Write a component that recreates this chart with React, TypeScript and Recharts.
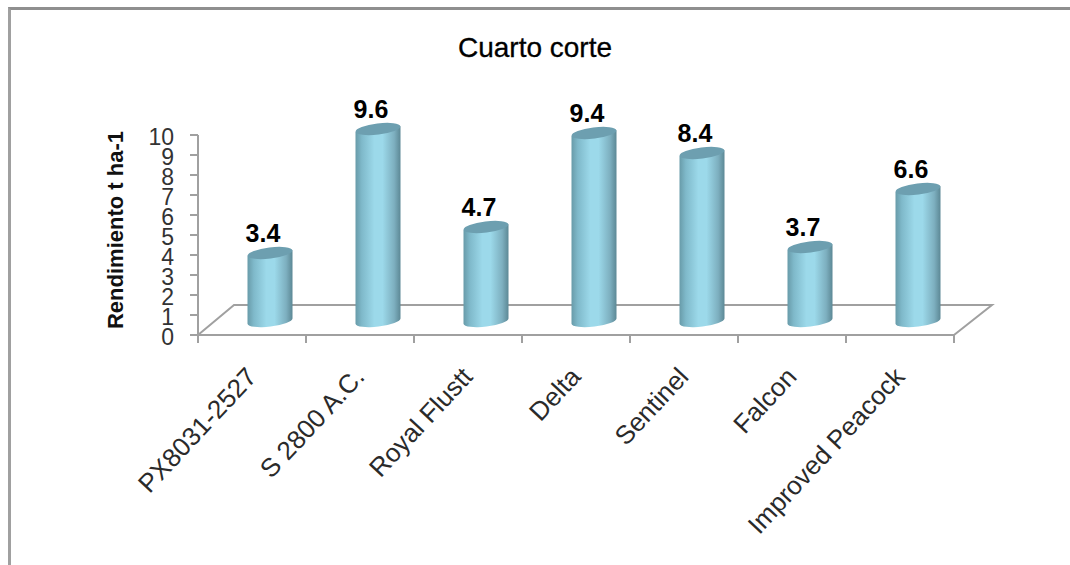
import React from 'react';
import { BarChart, Bar, XAxis, YAxis, LabelList, usePlotArea } from 'recharts';

const CATEGORIES = ['PX8031-2527', 'S 2800 A.C.', 'Royal Flustt', 'Delta', 'Sentinel', 'Falcon', 'Improved Peacock'];
const VALUES = [3.4, 9.6, 4.7, 9.4, 8.4, 3.7, 6.6];
const Y_TICKS = [0, 1, 2, 3, 4, 5, 6, 7, 8, 9, 10];

const data = CATEGORIES.map((name, i) => ({ name, value: VALUES[i] }));

const FONT = '"Liberation Sans", Arial, sans-serif';
const AXIS_GREY = '#a0a0a0';
const DEPTH_X = 36;
const DEPTH_Y = 30;
const BAND = 108;
const TILT = 7;

// the cylinder sits part way back on the floor, so it is shifted from the band
const Cylinder = (props: any) => {
    const { x, y, width, height } = props;
    const cx = x + width / 2 + 18;
    const rx = width / 2;
    const ry = 5.5;
    const dy = rx * Math.sin((TILT * Math.PI) / 180);
    const left = cx - rx;
    const right = cx + rx;
    const top = y - 14;
    const bottom = y + height - 14;
    return (
        <g>
            <path
                d={`M${left},${top + dy} L${left},${bottom + dy} A${rx},${ry} ${-TILT} 0 0 ${right},${bottom - dy} L${right},${top - dy} Z`}
                fill="url(#cylinderBody)"
            />
            <ellipse
                cx={cx}
                cy={top}
                rx={rx}
                ry={ry}
                transform={`rotate(${-TILT} ${cx} ${top})`}
                fill="#6d9fb0"
            />
        </g>
    );
};

const Floor = () => {
    const plot = usePlotArea();
    if (!plot) return null;
    const x0 = plot.x;
    const x1 = plot.x + plot.width;
    const y0 = plot.y + plot.height;
    return (
        <path
            d={`M${x0},${y0} L${x0 + DEPTH_X},${y0 - DEPTH_Y} L${x1 + DEPTH_X + 2},${y0 - DEPTH_Y} L${x1},${y0}`}
            fill="none"
            stroke={AXIS_GREY}
            strokeWidth={2}
        />
    );
};

// ticks fall between the categories, so the tick marks are drawn here too
const CategoryTick = ({ x, y, payload, index }: any) => {
    const ax = x + 6;
    const ay = y + 33;
    return (
        <g>
            <line x1={x - BAND / 2} x2={x - BAND / 2} y1={y - 10} y2={y - 2} stroke={AXIS_GREY} strokeWidth={2} />
            {index === CATEGORIES.length - 1 && (
                <line x1={x + BAND / 2} x2={x + BAND / 2} y1={y - 10} y2={y - 2} stroke={AXIS_GREY} strokeWidth={2} />
            )}
            <text
                x={ax}
                y={ay}
                textAnchor="end"
                fontFamily={FONT}
                fontSize={26}
                fill="#2a2a2a"
                transform={`rotate(-47 ${ax} ${ay})`}
            >
                {payload.value}
            </text>
        </g>
    );
};

const ValueLabel = ({ x, y, width, value }: any) => (
    <text
        x={x + width / 2 + 11}
        y={y - 25}
        textAnchor="middle"
        fontFamily={FONT}
        fontSize={25}
        fontWeight="bold"
        fill="#000"
    >
        {value}
    </text>
);

export default function App() {
    return (
        <div style={{ position: 'absolute', left: 0, top: 0, width: 1070, height: 565, background: '#fff', overflow: 'hidden' }}>
            <div
                style={{
                    position: 'absolute',
                    left: 8,
                    top: 7,
                    width: 1070,
                    height: 600,
                    borderTop: '3px solid #8f8f8f',
                    borderLeft: '3px solid #a0a0a0',
                }}
            />
            <BarChart
                width={1070}
                height={565}
                data={data}
                margin={{ top: 135, right: 116, bottom: 0, left: 138 }}
                barCategoryGap={31.5}
                style={{ position: 'absolute', left: 0, top: 0 }}
            >
                <defs>
                    <linearGradient id="cylinderBody" x1="0" y1="0" x2="1" y2="0">
                        <stop offset="0%" stopColor="#689ba9" />
                        <stop offset="14%" stopColor="#7fb9ca" />
                        <stop offset="42%" stopColor="#9cd9ea" />
                        <stop offset="60%" stopColor="#9cd9ea" />
                        <stop offset="86%" stopColor="#7dafbf" />
                        <stop offset="100%" stopColor="#5c8895" />
                    </linearGradient>
                </defs>
                <text x={535} y={57} textAnchor="middle" fontFamily={FONT} fontSize={28} fill="#000" stroke="#000" strokeWidth={0.3}>
                    Cuarto corte
                </text>
                <text
                    x={123}
                    y={230}
                    textAnchor="middle"
                    fontFamily={FONT}
                    fontSize={22}
                    fontWeight="bold"
                    fill="#111"
                    transform="rotate(-90 123 230)"
                >
                    Rendimiento t ha-1
                </text>
                <Floor />
                <XAxis
                    dataKey="name"
                    interval={0}
                    height={230}
                    tick={<CategoryTick />}
                    tickLine={false}
                    tickSize={8}
                    axisLine={{ stroke: AXIS_GREY, strokeWidth: 2 }}
                />
                <YAxis
                    domain={[0, 10]}
                    ticks={Y_TICKS}
                    interval={0}
                    width={60}
                    tickSize={8}
                    tickMargin={16}
                    axisLine={{ stroke: AXIS_GREY, strokeWidth: 2 }}
                    tickLine={{ stroke: AXIS_GREY, strokeWidth: 2 }}
                    tick={{ fontFamily: FONT, fontSize: 23, fill: '#333', dy: 1.5 }}
                />
                <Bar dataKey="value" shape={<Cylinder />} isAnimationActive={false}>
                    <LabelList dataKey="value" content={<ValueLabel />} />
                </Bar>
            </BarChart>
        </div>
    );
}
